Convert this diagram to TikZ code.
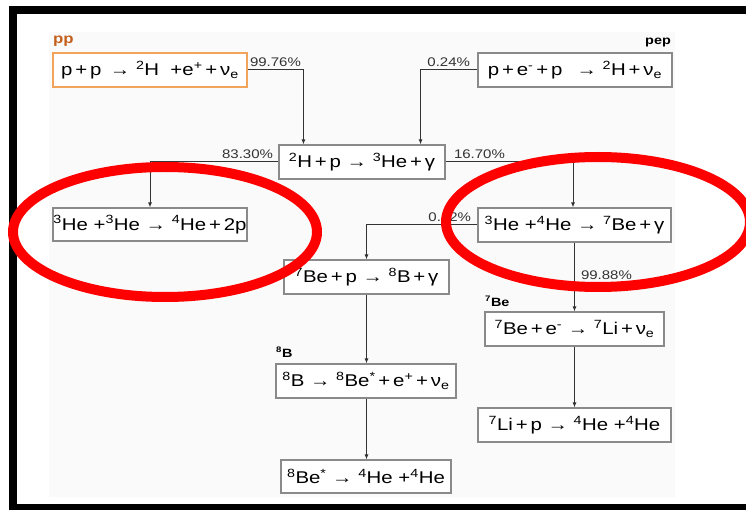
\documentclass[tikz,border=0pt]{standalone}
\usepackage{xcolor}
\usepackage{fontspec}
\setmainfont{Liberation Sans}[FakeStretch=1.2]
\usepackage{tikz}
\usetikzlibrary{arrows.meta,positioning}
\definecolor{panel}{HTML}{FAFAFA}
\definecolor{boxline}{HTML}{8A8A8A}
\definecolor{flowline}{HTML}{333333}
\definecolor{ppline}{HTML}{F2A45A}
\definecolor{pptext}{HTML}{C45F1C}
\definecolor{circled}{HTML}{FF0000}
\newcommand{\isot}[1]{\textsuperscript{#1}}
\newcommand{\nue}{ν\textsubscript{e}}

\begin{document}
\begin{tikzpicture}[x=1pt,y=-1pt,>={Latex[length=5pt,width=4pt]},
  box/.style={draw=boxline,line width=1.1pt,fill=white,minimum height=34pt,inner sep=0pt,font=\fontsize{17}{20}\selectfont},
  flow/.style={->,draw=flowline,line width=1pt},
  pct/.style={inner sep=3pt,text=flowline,font=\fontsize{12.5}{14}\selectfont},
  tag/.style={inner sep=0pt,font=\bfseries\fontsize{12}{14}\selectfont}]
\clip (0,0) rectangle (746,510);
\useasboundingbox (0,0) rectangle (746,510);
% frame and panel
\fill[panel] (49,32) rectangle (675,497);
\draw[line width=8pt] (13,10) rectangle (760,508);
% pp chain
\node[box,draw=ppline,minimum width=194pt] (ppb) at (150,70) {p\,+\,p \,→ \isot{2}H \ +e\isot{+}\,+\,\nue};
\node[box,minimum width=194pt] (pepb) at (575,70) {p\,+\,e\isot{-}\,+\,p \ \,→ \isot{2}H\,+\,\nue};
\node[box,minimum width=166pt] (dh) at (362,162) {\isot{2}H\,+\,p → \isot{3}He\,+\,γ};
\node[box,minimum width=194pt,minimum height=33pt] (hehe) at (150,224.5) {\isot{3}He +\isot{3}He → \isot{4}He\,+\,2p};
\node[box,minimum width=193pt] (hebe) at (574.5,225) {\isot{3}He +\isot{4}He → \isot{7}Be\,+\,γ};
\node[box,minimum width=165pt] (bep) at (366.5,277) {\isot{7}Be\,+\,p → \isot{8}B\,+\,γ};
\node[box,minimum width=180pt] (bb) at (366,381) {\isot{8}B → \isot{8}Be\isot{*}\,+\,e\isot{+}\,+\,\nue};
\node[box,minimum width=170pt,minimum height=33pt] (bes) at (366,476.5) {\isot{8}Be\isot{*} → \isot{4}He +\isot{4}He};
\node[box,minimum width=179pt] (bee) at (574.5,329) {\isot{7}Be\,+\,e\isot{-} → \isot{7}Li\,+\,\nue};
\node[box,minimum width=193pt] (lip) at (574.5,425) {\isot{7}Li\,+\,p → \isot{4}He +\isot{4}He};
% chain names
\node[tag,text=pptext,anchor=base west,font=\bfseries\fontsize{14}{16}\selectfont] (pptag) at (53,44) {pp};
\node[tag,anchor=base east] (peptag) at (671,45) {pep};
\node[tag,anchor=base west] (betag) at (485,306) {\isot{7}Be};
\node[tag,anchor=base west] (btag) at (276,357) {\isot{8}B};
% branches
\draw[flow] (ppb.east) -| ([xshift=25pt]dh.north west) node[pct,pos=0,anchor=south west,xshift=-1pt] {99.76\%};
\draw[flow] (pepb.west) -| ([xshift=-25pt]dh.north east) node[pct,pos=0,anchor=south east,xshift=-4pt] {0.24\%};
\draw[flow] (dh.west) -| (hehe.north) node[pct,pos=0,anchor=south east,xshift=-2pt] {83.30\%};
\draw[flow] (dh.east) -| ([xshift=-1.5pt]hebe.north) node[pct,pos=0,anchor=south west,xshift=5pt] {16.70\%};
\draw[flow] (hebe.west) -| (bep.north) node[pct,pos=0,anchor=south east,xshift=-3pt] {0.12\%};
\draw[flow] (hebe.south) -- (bee.north) node[pct,pos=.53,anchor=base west,xshift=3pt] {99.88\%};
\draw[flow] (bep.south) -- (bb.north -| bep.south);
\draw[flow] (bb.south -| bep.south) -- (bes.north -| bep.south);
\draw[flow] (bee.south) -- (lip.north);
% highlighted rings
\draw[circled,line width=10pt] (165,232) ellipse [x radius=152, y radius=65];
\draw[circled,line width=10pt] (598,222) ellipse [x radius=152, y radius=65];
\end{tikzpicture}
\end{document}
